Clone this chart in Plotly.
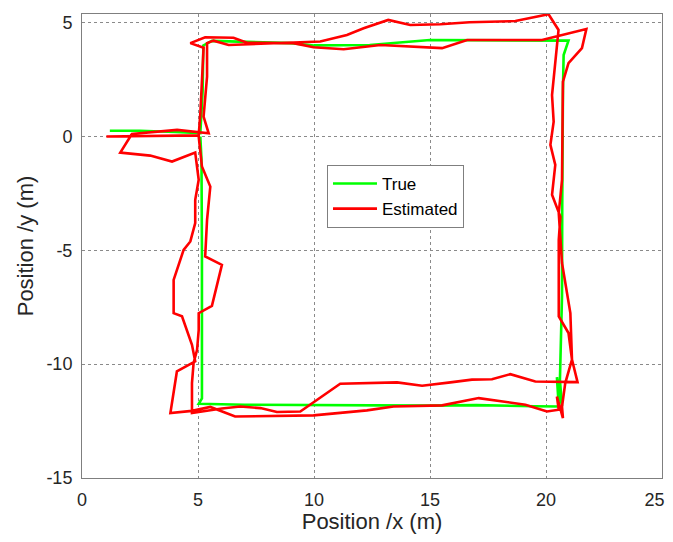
import plotly.graph_objects as go

# True trajectory
true_x = [1.2, 2.5, 4.0, 5.1, 5.2, 5.23, 5.6, 7.0, 9.0, 10.0, 12.4, 15.0, 17.0, 20.45, 20.97,
          20.76, 20.73, 20.7, 20.69, 20.6, 20.69, 20.47, 20.55, 19.5, 17.0, 15.0, 12.0, 9.0, 7.0,
          5.03, 5.17, 5.17, 5.15, 5.1]
true_y = [0.25, 0.25, 0.2, 0.15, 2.0, 4.0, 4.2, 4.15, 4.1, 4.0, 4.02, 4.24, 4.22, 4.21, 4.21,
          3.58, 2.0, -3.0, -7.0, -10.7, -11.86, -10.57, -11.86, -11.85, -11.8, -11.82, -11.8, -11.8, -11.78,
          -11.74, -11.5, -5.0, -1.0, 0.0]

# Estimated trajectory
est_x = [1.05, 2.5, 4.0, 5.03, 5.1, 5.17, 5.24, 4.67, 5.31, 6.53, 7.11, 9.12, 9.98, 11.28, 12.86,
         15.52, 16.6, 19.83, 21.74, 21.55, 20.97, 20.73, 20.69, 20.55, 20.62, 20.69, 21.05, 21.12,
         20.83, 20.69, 20.73, 20.47, 20.55, 20.04, 19.11, 17.1, 15.52, 13.43, 12.28, 9.98, 6.6,
         5.53, 4.74, 3.81, 4.09, 4.88, 4.74, 4.53, 4.31, 3.95, 3.95, 4.38, 4.67, 4.88, 4.88, 5.03,
         4.88, 3.88, 3.38, 2.94, 1.65, 2.15, 4.1, 4.96, 5.46, 5.24, 5.39, 5.39, 5.67, 6.32, 8.84,
         10.27, 11.42, 12.14, 13.2, 14.15, 15.45, 16.7, 18.68, 20.11, 20.54, 20.26, 20.33, 20.19,
         20.4, 20.3, 20.26, 20.62, 20.55, 20.55, 20.97, 21.12, 21.36, 19.54, 18.46, 17.67, 16.81,
         15.88, 14.66, 13.58, 11.13, 9.41, 8.4, 7.69, 6.82, 6.03, 4.74, 4.74, 4.81, 4.96, 5.03,
         5.03, 5.6, 6.03, 5.31, 5.39, 5.53, 5.17, 5.03]
est_y = [0.0, 0.02, 0.03, 0.05, 1.0, 2.5, 3.9, 4.1, 4.36, 4.34, 4.12, 4.1, 3.92, 3.83, 4.02,
         3.88, 4.24, 4.24, 4.72, 3.88, 3.22, 2.41, -1.91, -3.37, -4.54, -5.56, -7.76, -9.8,
         -10.83, -11.86, -12.37, -11.42, -12.0, -12.08, -11.78, -11.49, -11.81, -11.86, -12.03,
         -12.25, -12.3, -11.88, -12.05, -12.15, -10.32, -9.88, -9.15, -8.5, -7.9, -7.76, -6.3,
         -4.98, -4.61, -3.8, -2.78, -1.9, -0.71, -1.1, -0.95, -0.84, -0.71, 0.11, 0.29, 0.21, 0.14,
         0.87, 2.63, 4.1, 4.21, 4.02, 4.1, 4.17, 4.46, 4.75, 5.12, 4.9, 4.93, 5.02, 5.07, 5.37,
         4.68, 1.82, 0.65, -0.37, -1.25, -2.12, -2.56, -3.52, -4.54, -7.9, -8.63, -9.8, -10.79,
         -10.76, -10.44, -10.66, -10.68, -10.8, -10.95, -10.8, -10.86, -12.08, -12.1, -11.93,
         -11.86, -11.95, -12.15, -10.83, -9.95, -9.37, -8.5, -7.76, -7.44, -5.64, -5.27, -3.66,
         -2.2, -1.32, 0.0]

x_ticks = [0, 5, 10, 15, 20, 25]
x_tick_labels = ["0", "5", "10", "15", "20", "25\u00a0\u00a0\u00a0"]
y_ticks = [-15, -10, -5, 0, 5]
y_tick_labels = ["-15", "-10", "-5", "0", "5"]

FONT = "Liberation Sans, Arial, sans-serif"

fig = go.Figure()
fig.add_trace(go.Scatter(x=true_x, y=true_y, mode="lines", name="True",
                         line=dict(color="#00FF00", width=2.6)))
fig.add_trace(go.Scatter(x=est_x, y=est_y, mode="lines", name="Estimated",
                         line=dict(color="#FF0000", width=2.6)))

axis_common = dict(
    showline=True, linecolor="#7f7f7f", linewidth=1, mirror=True,
    showgrid=True, gridcolor="#8a8a8a", gridwidth=1, griddash="dot",
    zeroline=False, automargin=False, ticklabeloverflow="allow",
    ticks="outside", tickcolor="rgba(0,0,0,0)",
    tickfont=dict(family=FONT, size=18, color="#262626"),
)

# page body adds an 8px offset on every side; figure sized to fit the window without scrolling
fig.update_layout(
    width=657, height=526,
    margin=dict(l=74, r=3, t=6, b=56),
    paper_bgcolor="white", plot_bgcolor="white",
    font=dict(family=FONT, color="#262626"),
    xaxis=dict(range=[0, 25], tickvals=x_ticks, ticktext=x_tick_labels, ticklen=5,
               title=dict(text="Position /x (m)", font=dict(family=FONT, size=22, color="#262626"), standoff=4),
               **axis_common),
    yaxis=dict(range=[-15, 5.38], tickvals=y_ticks, ticktext=y_tick_labels, ticklen=5,
               title=dict(text="Position /y (m)", font=dict(family=FONT, size=22, color="#262626"), standoff=6),
               **axis_common),
    legend=dict(x=0.4224, y=0.6746, xanchor="left", yanchor="top",
                bgcolor="white", bordercolor="#7f7f7f", borderwidth=1,
                font=dict(family=FONT, size=17, color="#000000"),
                tracegroupgap=0, itemwidth=44),
    showlegend=True,
)

fig.write_html("out.html")
